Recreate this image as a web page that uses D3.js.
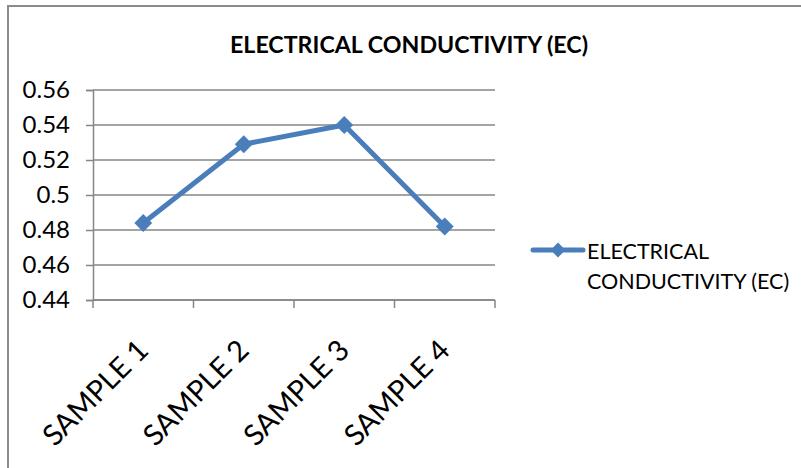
<!DOCTYPE html>
<html>
<head>
<meta charset="utf-8">
<script src="https://cdn.jsdelivr.net/npm/d3@7"></script>
<style>
  body { margin: 0; background: #fff; }
  text { font-family: Lato, "Open Sans", sans-serif; fill: #000; }
</style>
</head>
<body>
<div id="chart"></div>
<script>
// Chart data
const categories = ["SAMPLE 1", "SAMPLE 2", "SAMPLE 3", "SAMPLE 4"];
const ecValues = [0.484, 0.529, 0.54, 0.482];
const yTicks = [0.44, 0.46, 0.48, 0.5, 0.52, 0.54, 0.56];
const seriesName = "ELECTRICAL CONDUCTIVITY (EC)";
const legendLines = ["ELECTRICAL", "CONDUCTIVITY (EC)"];

const width = 801, height = 468;
const blue = "#4a7ebb", grid = "#868686";

const svg = d3.select("#chart").append("svg")
    .attr("width", width)
    .attr("height", height);

// Outer chart border (runs off the right and bottom edges)
svg.append("rect")
    .attr("x", 8).attr("y", 6)
    .attr("width", 820).attr("height", 480)
    .attr("fill", "none")
    .attr("stroke", "#8c8c8c")
    .attr("stroke-width", 2);

// Title
svg.append("text")
    .attr("x", 409).attr("y", 53)
    .attr("text-anchor", "middle")
    .attr("font-size", 22.5)
    .attr("font-weight", "bold")
    .attr("textLength", 358)
    .attr("lengthAdjust", "spacingAndGlyphs")
    .text(seriesName);

// Scales
const x = d3.scaleBand().domain(categories).range([93, 495]);
const y = d3.scaleLinear().domain([0.44, 0.56]).range([300, 90]);

// Horizontal gridlines
svg.append("g")
    .selectAll("line")
    .data(yTicks)
    .enter().append("line")
    .attr("x1", 93).attr("x2", 495)
    .attr("y1", d => y(d)).attr("y2", d => y(d))
    .attr("stroke", grid)
    .attr("stroke-width", 1.5);

// Y axis
const yAxis = svg.append("g")
    .attr("transform", "translate(93,0)")
    .call(d3.axisLeft(y).tickValues(yTicks).tickSize(7).tickPadding(16)
        .tickFormat(d => d3.format("")(+d.toFixed(2))));
yAxis.select(".domain").attr("stroke", grid).attr("stroke-width", 1.5);
yAxis.selectAll(".tick line").attr("stroke", grid).attr("stroke-width", 1.5);
yAxis.selectAll(".tick text")
    .attr("font-size", 24)
    .attr("font-family", "Lato, sans-serif")
    .attr("fill", "#000");

// X axis line and tick marks at category boundaries
svg.append("line")
    .attr("x1", 93).attr("x2", 495)
    .attr("y1", 300).attr("y2", 300)
    .attr("stroke", grid).attr("stroke-width", 1.5);
const bounds = categories.map(c => x(c)).concat([x.range()[1]]);
svg.append("g")
    .selectAll("line")
    .data(bounds)
    .enter().append("line")
    .attr("x1", d => d).attr("x2", d => d)
    .attr("y1", 300).attr("y2", 308)
    .attr("stroke", grid).attr("stroke-width", 1.5);

// Rotated category labels
svg.append("g")
    .selectAll("text")
    .data(categories)
    .enter().append("text")
    .attr("transform", d => `translate(${x(d) + x.bandwidth() / 2 + 7},352) rotate(-45)`)
    .attr("text-anchor", "end")
    .attr("font-size", 29)
    .text(d => d);

// Series line
const line = d3.line()
    .x((d, i) => x(categories[i]) + x.bandwidth() / 2)
    .y(d => y(d));

svg.append("path")
    .datum(ecValues)
    .attr("d", line)
    .attr("fill", "none")
    .attr("stroke", blue)
    .attr("stroke-width", 5)
    .attr("stroke-linejoin", "round");

const diamond = d3.symbol().type(d3.symbolSquare).size(160);
svg.append("g")
    .selectAll("path")
    .data(ecValues)
    .enter().append("path")
    .attr("d", diamond)
    .attr("transform", (d, i) => `translate(${x(categories[i]) + x.bandwidth() / 2},${y(d)}) rotate(45)`)
    .attr("fill", blue);

// Legend
const legend = svg.append("g");
legend.append("line")
    .attr("x1", 533).attr("x2", 583)
    .attr("y1", 250).attr("y2", 250)
    .attr("stroke", blue)
    .attr("stroke-width", 5)
    .attr("stroke-linecap", "round");
legend.append("path")
    .attr("d", d3.symbol().type(d3.symbolSquare).size(110))
    .attr("transform", "translate(558,250) rotate(45)")
    .attr("fill", blue);
legend.selectAll("text")
    .data(legendLines)
    .enter().append("text")
    .attr("x", 587)
    .attr("y", (d, i) => 259 + i * 30)
    .attr("font-size", 21.5)
    .text(d => d);
</script>
</body>
</html>
